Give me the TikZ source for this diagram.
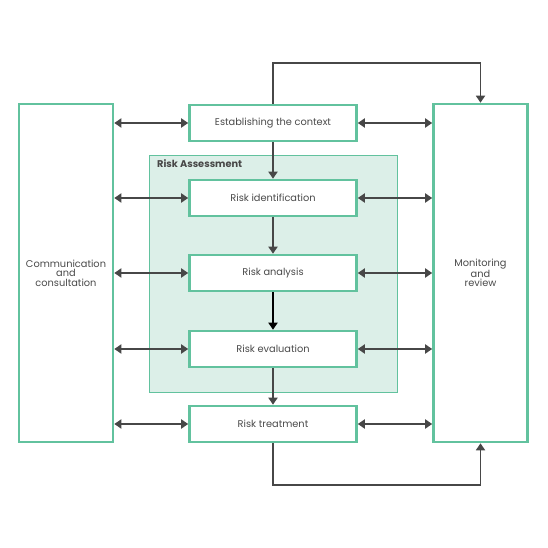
\documentclass[tikz,border=0pt]{standalone}
\usepackage{fontspec}
\setmainfont{Poppins}
\usetikzlibrary{arrows.meta,positioning}
\definecolor{riskgreen}{HTML}{62C29E}
\definecolor{riskfill}{HTML}{DCEFE8}
\definecolor{arrowgray}{HTML}{474747}
\definecolor{textgray}{HTML}{4A4A4A}
\tikzset{
  stepbox/.style = {draw = riskgreen, line width = 2.6pt, fill = white,
    minimum width = 167pt, minimum height = 36pt, inner sep = 0pt,
    font = \fontsize{9.8}{10}\selectfont, text = textgray},
  sidebox/.style = {draw = riskgreen, line width = 2.6pt, fill = white,
    minimum width = 94pt, minimum height = 338pt, inner sep = 0pt, align = center,
    font = \fontsize{9.8}{9.6}\selectfont, text = textgray},
  flow/.style = {draw = arrowgray, line width = 1.8pt,
    -{Triangle[length = 7pt, width = 9pt]}},
  both/.style = {draw = arrowgray, line width = 1.8pt,
    {Triangle[length = 7pt, width = 9pt]}-{Triangle[length = 7pt, width = 9pt]}}
}
\begin{document}
\begin{tikzpicture}[x = 1pt, y = -1pt]
\useasboundingbox (0,0) rectangle (548,548);
% risk assessment frame
\filldraw[draw = riskgreen, fill = riskfill, line width = 1.4pt] (149.5,155.5) rectangle (397.5,392.5);
\node[anchor = north west, font = \fontsize{9.8}{10}\selectfont\bfseries, text = arrowgray, inner sep = 0pt] (ra) at (157,159.5) {Risk Assessment};
% boxes
\node[sidebox] (comm) at (66,273) {Communication\\and\\consultation};
\node[sidebox] (mon) at (480.5,273) {Monitoring\\and\\review};
\node[stepbox] (ctx) at (273,123) {Establishing the context};
\node[stepbox] (ident) at (273,198) {Risk identification};
\node[stepbox] (anal) at (273,273) {Risk analysis};
\node[stepbox] (eval) at (273,349) {Risk evaluation};
\node[stepbox] (treat) at (273,424) {Risk treatment};
% main flow
\draw[flow] (ctx) -- (ident);
\draw[flow] (ident) -- (anal);
\draw[flow, draw = black] (anal) -- (eval);
\draw[flow] (eval) -- (treat);
% side arrows
\foreach \s in {ctx, ident, anal, eval, treat} {
  \draw[both] (comm.east |- \s.west) -- (\s.west);
  \draw[both] (\s.east) -- (mon.west |- \s.east);
}
% loops
\coordinate (top) at (273,63);
\coordinate (bot) at (273,485);
\draw[flow] (ctx.north) -- (top) -| (mon.north);
\draw[flow] (treat.south) -- (bot) -| (mon.south);
\end{tikzpicture}
\end{document}
